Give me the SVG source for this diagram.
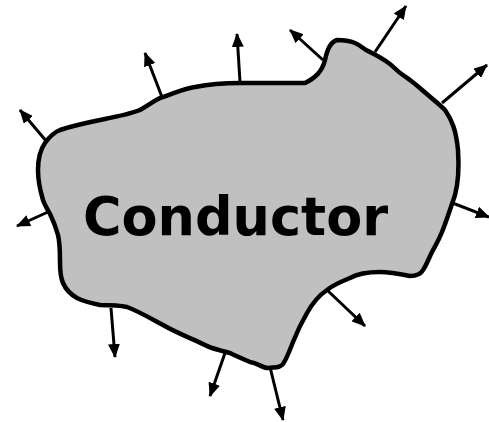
<svg xmlns="http://www.w3.org/2000/svg" width="489" height="422" viewBox="0 0 489 422">
<defs>
<marker id="ah" viewBox="0 0 14 12" refX="13" refY="6" markerWidth="14" markerHeight="12" markerUnits="userSpaceOnUse" orient="auto">
<path d="M0,0 L14,6 L0,12 Z" fill="#000"/>
</marker>
<style>
.arrow{stroke:#000;stroke-width:3;fill:none;marker-end:url(#ah)}
.body{fill:#c0c0c0;stroke:#000;stroke-width:4.5;stroke-linejoin:round}
.lbl{font-family:"DejaVu Sans",Verdana,sans-serif;font-weight:bold;font-size:52.5px;fill:#000}
</style>
</defs>
<g id="arrows">
<line class="arrow" x1="47" y1="142" x2="20" y2="110"/>
<line class="arrow" x1="162" y1="97" x2="145" y2="53"/>
<line class="arrow" x1="240" y1="82" x2="237" y2="34"/>
<line class="arrow" x1="323" y1="60" x2="290" y2="30"/>
<line class="arrow" x1="375" y1="52" x2="406" y2="6"/>
<line class="arrow" x1="442" y1="103" x2="487" y2="65"/>
<line class="arrow" x1="450" y1="202" x2="489" y2="217"/>
<line class="arrow" x1="327" y1="290" x2="365" y2="326"/>
<line class="arrow" x1="270" y1="367" x2="283" y2="420"/>
<line class="arrow" x1="225" y1="353" x2="210" y2="396"/>
<line class="arrow" x1="111" y1="308" x2="115" y2="357"/>
<line class="arrow" x1="48" y1="212" x2="17" y2="226"/>
</g>
<g id="conductor">
<path class="body" d="M60,130 C90,120 120,118 140,110 C150,104 152,102 160,98 C175,93 185,88 195,87 C215,83 230,83 240,83 L305,83 C315,78 322,72 325,60 C327,50 330,42 337,40 C345,40 350,41 355,43 C362,46 364,50 370,52 C378,56 382,58 390,64 C398,72 402,75 410,80 C418,86 422,90 428,95 C436,102 440,105 445,110 C452,120 456,130 458,150 C459,165 459,180 455,195 C450,210 446,222 442,232 C438,242 435,246 432,252 C428,260 426,266 423,270 C420,276 414,276 410,276 C400,274 390,272 380,272 C365,272 357,274 350,278 C340,282 333,285 327,290 C318,296 312,304 307,313 C300,325 297,332 293,342 C289,352 287,358 283,364 C280,368 275,367 268,368 C262,368 258,363 250,362 C243,359 236,356 230,353 C222,351 210,348 205,345 C190,338 175,332 163,325 C150,318 138,311 127,307 C118,305 108,305 100,305 C90,303 83,301 77,298 C70,294 66,290 63,283 C60,276 60,270 60,262 C60,250 60,243 58,235 C56,228 54,222 50,214 C46,207 44,203 43,200 C40,190 38,180 38,170 C38,160 40,150 45,143 C50,136 55,132 60,130 Z"/>
</g>
<g id="label">
<text class="lbl" x="83" y="235">Conductor</text>
</g>
</svg>
